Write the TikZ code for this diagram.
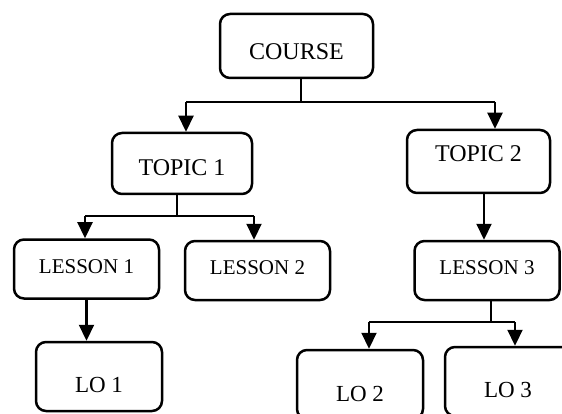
\documentclass[tikz,border=0pt]{standalone}
\usepackage{fontspec}
\setmainfont{Liberation Serif}
\usetikzlibrary{arrows.meta}

\begin{document}
\begin{tikzpicture}[x=1pt,y=-1pt,
  boxNode/.style={draw,line width=2.5pt,rounded corners=10pt,inner sep=0pt,
    font=\fontsize{24}{28}\selectfont},
  lessonBox/.style={boxNode,minimum width=145pt,minimum height=59pt,
    font=\fontsize{21}{25}\selectfont},
  loBox/.style={boxNode,minimum width=126pt,minimum height=69pt,
    font=\fontsize{23}{27}\selectfont},
  linkLine/.style={line width=2.2pt},
  linkArrow/.style={linkLine,-{Triangle[width=15pt,length=16pt]}}]
\useasboundingbox (0,0) rectangle (562,414);
\clip (0,0) rectangle (562,414);

% boxes
\node[boxNode,minimum width=153pt,minimum height=64pt,text height=28pt,text depth=0pt] (C) at (296.5,46) {COURSE};
\node[boxNode,minimum width=140pt,minimum height=61pt,text height=24pt,text depth=0pt] (T1) at (182,163.5) {TOPIC 1};
\node[boxNode,minimum width=143pt,minimum height=63pt,text height=16pt,text depth=15pt] (T2) at (478.5,161.5) {TOPIC 2};
\node[lessonBox,text height=14pt,text depth=5pt] (L1) at (86.5,269) {LESSON 1};
\node[lessonBox,text height=14pt,text depth=7pt] (L2) at (257.5,270.5) {LESSON 2};
\node[lessonBox,text height=14pt,text depth=7pt] (L3) at (487,270.5) {LESSON 3};
\node[loBox,text height=32pt,text depth=0pt] (LO1) at (99,376.5) {LO 1};
\node[loBox,text height=34pt,text depth=0pt] (LO2) at (360,384.5) {LO 2};
\node[loBox,text height=31pt,text depth=0pt] (LO3) at (508,381.5) {LO 3};

% branch points
\coordinate (j1) at (301,102);
\coordinate (a1) at (186,102);
\coordinate (a2) at (495,102);
\coordinate (j2) at (177,216);
\coordinate (b1) at (85,216);
\coordinate (b2) at (254,216);
\coordinate (d1) at ([xshift=5.5pt]T2.south);
\coordinate (j3) at (491,322);
\coordinate (e1) at (369,322);
\coordinate (e2) at (515,322);

% connectors
\draw[linkLine] (C.south -| j1) -- (j1);
\draw[linkLine] (a1) -- (a2);
\draw[linkArrow] (a1) -- (a1 |- T1.north);
\draw[linkArrow] (a2) -- (a2 |- T2.north);

\draw[linkLine] (T1.south -| j2) -- (j2);
\draw[linkLine] (b1) -- (b2);
\draw[linkArrow] (b1) -- (b1 |- L1.north);
\draw[linkArrow] (b2) -- (b2 |- L2.north);

\draw[linkArrow] (d1) -- (d1 |- L3.north);
\draw[linkArrow] (L1.south) -- (L1.south |- LO1.north);

\draw[linkLine] (L3.south -| j3) -- (j3);
\draw[linkLine] (e1) -- (e2);
\draw[linkArrow] (e1) -- (e1 |- LO2.north);
\draw[linkArrow] (e2) -- (e2 |- LO3.north);

\end{tikzpicture}
\end{document}
